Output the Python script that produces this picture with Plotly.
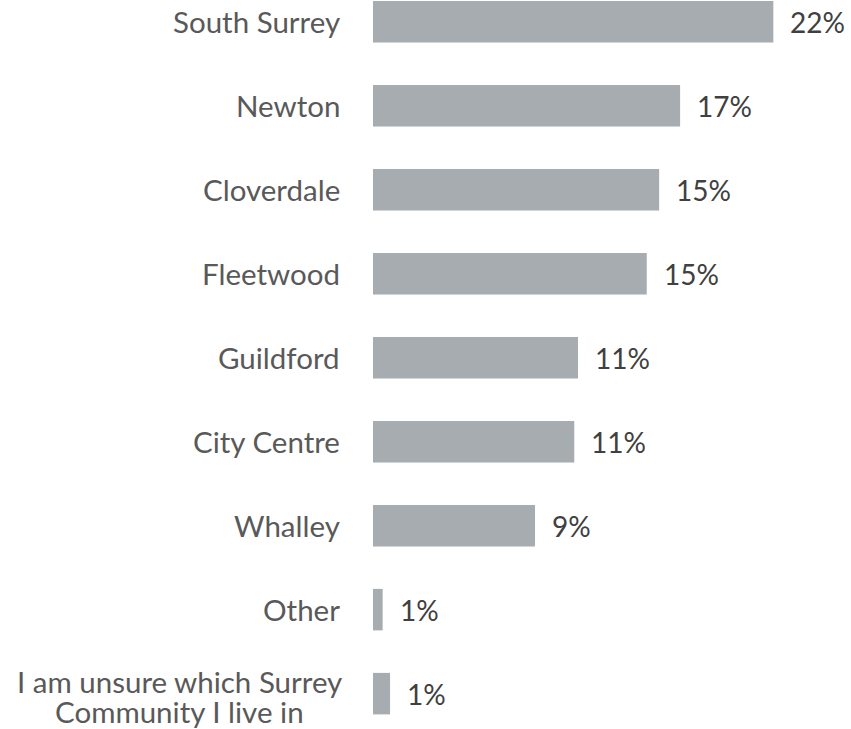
import plotly.graph_objects as go

# Share of respondents by Surrey community
communities = [
    "South Surrey",
    "Newton",
    "Cloverdale",
    "Fleetwood",
    "Guildford",
    "City Centre",
    "Whalley",
    "Other",
    "I am unsure which Surrey<br>Community I live in",
]
shares = [0.216, 0.1657, 0.1544, 0.1477, 0.1106, 0.1086, 0.0874, 0.0052, 0.0092]

BAR_COLOR = "#A6ACAF"
LABEL_COLOR = "#595959"
VALUE_COLOR = "#404040"
FONT = "Lato"
LABEL_SIZE = 29.5
VALUE_SIZE = 28
LABEL_GAP = 31      # px between label block and bar start
LINE_STEP = 30      # px between lines of a wrapped label

fig = go.Figure(
    go.Bar(
        x=shares,
        y=communities,
        orientation="h",
        marker=dict(color=BAR_COLOR, line=dict(width=0)),
        width=0.494,
        hoverinfo="skip",
    )
)

# Category names to the left of the bars; wrapped names are drawn line by line,
# each line centred on the widest one
for name in communities:
    lines = name.split("<br>")
    if len(lines) == 1:
        fig.add_annotation(
            x=0, xref="paper", y=name, yref="y",
            text=name, showarrow=False,
            xanchor="right", yanchor="middle",
            xshift=-LABEL_GAP,
            font=dict(family=FONT, size=LABEL_SIZE, color=LABEL_COLOR),
        )
    else:
        block_w = 325
        n = len(lines)
        for i, line in enumerate(lines):
            fig.add_annotation(
                x=0, xref="paper", y=name, yref="y",
                text=line, showarrow=False,
                xanchor="center", yanchor="middle",
                xshift=-LABEL_GAP - block_w / 2,
                yshift=((n - 1) / 2 - i) * LINE_STEP - 3,
                font=dict(family=FONT, size=LABEL_SIZE, color=LABEL_COLOR),
            )

# Percentage labels just past the end of each bar
for name, v in zip(communities, shares):
    fig.add_annotation(
        x=v, xref="x", y=name, yref="y",
        text=f"{round(v * 100):d}%", showarrow=False,
        xanchor="left", yanchor="middle",
        xshift=15,
        font=dict(family=FONT, size=VALUE_SIZE, color=VALUE_COLOR),
    )

fig.update_layout(
    width=851, height=729,
    margin=dict(l=373, r=0, t=0, b=0),
    paper_bgcolor="white", plot_bgcolor="white",
    showlegend=False,
    xaxis=dict(range=[0, 0.2579], visible=False, fixedrange=True),
    yaxis=dict(
        type="category",
        categoryorder="array", categoryarray=communities,
        range=[8.421, -0.258],
        showticklabels=False, showgrid=False, zeroline=False,
        fixedrange=True,
    ),
)

fig.write_html("out.html", config={"displayModeBar": False})
